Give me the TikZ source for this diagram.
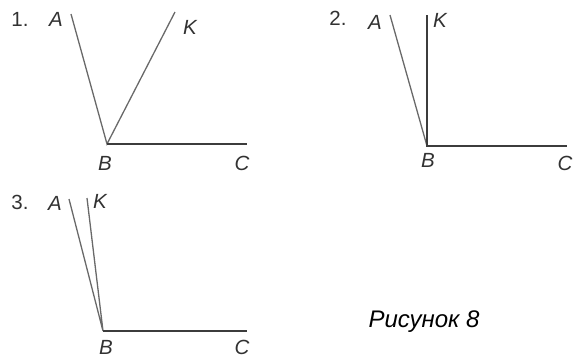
\documentclass[tikz,border=0pt]{standalone}
\usepackage{fontspec}
\setmainfont{Liberation Sans}
\usetikzlibrary{positioning}
\definecolor{ink}{RGB}{50,50,50}
\definecolor{ray}{RGB}{105,105,105}
\definecolor{rayd}{RGB}{60,60,60}

\begin{document}
\begin{tikzpicture}[x=1pt,y=-1pt,
  lbl/.style={ink,font=\fontsize{20.5}{20.5}\selectfont\itshape,inner sep=0pt},
  num/.style={ink,font=\fontsize{20.5}{20.5}\selectfont,inner sep=0pt},
  side/.style={ray,line width=1.3pt},
  sided/.style={rayd,line width=1.7pt}]
  \useasboundingbox (0,0) rectangle (574,357);

  % Angle 1
  \coordinate (A1) at (71,14);
  \coordinate (K1) at (175,12);
  \coordinate (B1) at (107,144);
  \coordinate (C1) at (247,144);
  \draw[side] (A1) -- (B1) -- (K1);
  \draw[sided] (B1) -- (C1);
  \node[num] (n1) at (20,19) {1.};
  \node[lbl] (a1) at (56,19) {A};
  \node[lbl] (k1) at (190,27) {K};
  \node[lbl] (b1) at (105,163) {B};
  \node[lbl] (c1) at (242,163) {C};

  % Angle 2
  \coordinate (A2) at (390,15);
  \coordinate (K2) at (427,15);
  \coordinate (B2) at (427,146);
  \coordinate (C2) at (567,146);
  \draw[side] (A2) -- (B2);
  \draw[sided] (K2) -- (B2) -- (C2);
  \node[num] (n2) at (338,18) {2.};
  \node[lbl] (a2) at (375,22) {A};
  \node[lbl] (k2) at (440,20) {K};
  \node[lbl] (b2) at (428,160) {B};
  \node[lbl] (c2) at (565,163) {C};

  % Angle 3
  \coordinate (A3) at (69,199);
  \coordinate (K3) at (87,198);
  \coordinate (B3) at (103,331);
  \coordinate (C3) at (247,331);
  \draw[side] (A3) -- (B3) -- (K3);
  \draw[sided] (B3) -- (C3);
  \node[num] (n3) at (20,202) {3.};
  \node[lbl] (a3) at (55,203) {A};
  \node[lbl] (k3) at (100,201) {K};
  \node[lbl] (b3) at (106,347) {B};
  \node[lbl] (c3) at (242,347) {C};

  \node[lbl,black,font=\fontsize{24}{24}\selectfont\itshape] (cap) at (424,322) {Рисунок 8};
\end{tikzpicture}
\end{document}
